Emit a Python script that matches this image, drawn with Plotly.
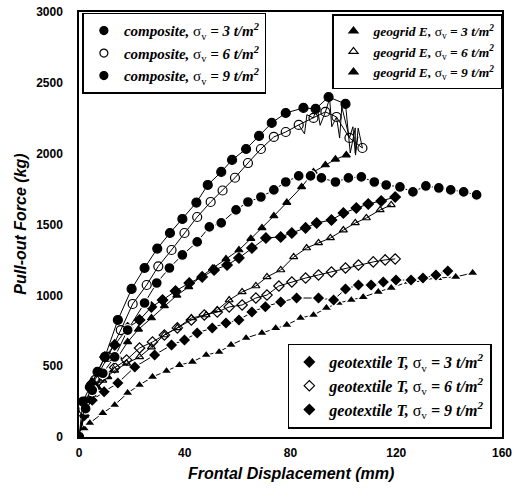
import plotly.graph_objects as go

# ---------------- data ----------------
# composite, sigma_v = 3 (filled circles, solid line)
comp3_x = [0, 1.5, 4.1, 7.0, 9.8, 14.7, 19.9, 24.8, 29.6, 34.4, 39.1, 44.4, 48.7, 53.8, 57.9, 63.2, 68.1, 72.9, 78.2, 84.9, 89.5, 94.4, 100.8]
comp3_y = [0, 250, 353, 460, 565, 826, 1045, 1193, 1330, 1440, 1539, 1655, 1779, 1871, 1956, 2033, 2125, 2217, 2287, 2323, 2316, 2400, 2351]
comp3_tail_x = [100.8, 101.9, 102.6, 104.5, 104.5, 105.5]
comp3_tail_y = [2351, 2167, 2005, 2182, 2005, 2120]

# composite, sigma_v = 6 (open circles, solid line)
comp6_x = [0, 2.5, 6.0, 10.9, 15.8, 20.3, 25.6, 30.0, 35.0, 39.9, 44.7, 49.8, 54.3, 59.0, 63.9, 68.8, 73.7, 78.2, 83.1, 88.7, 93.2, 97.4, 102.3, 107.2]
comp6_y = [0, 250, 402, 565, 755, 939, 1073, 1205, 1320, 1440, 1553, 1659, 1740, 1830, 1934, 2033, 2118, 2153, 2203, 2252, 2295, 2259, 2111, 2040]
comp6_zig_x = [83.1, 85.3, 86.2, 88.7, 90.0, 91.2, 93.2, 94.8, 95.6, 97.4, 98.6, 99.4, 102.3, 103.6, 104.6, 105.6, 107.2]
comp6_zig_y = [2203, 2140, 2275, 2252, 2340, 2200, 2295, 2390, 2190, 2259, 2110, 2330, 2111, 2190, 1990, 2180, 2040]

# composite, sigma_v = 9 (filled circles, broken line)
comp9_x = [0, 2.5, 5.0, 9.0, 13.5, 18.4, 24.8, 29.4, 34.2, 39.1, 44.7, 49.3, 53.8, 59.4, 63.9, 68.8, 73.7, 78.2, 83.1, 87.6, 91.7, 97.0, 101.9, 106.8, 111.7, 116.2, 121.4, 126.3, 131.2, 136.1, 140.6, 145.5, 150.4]
comp9_y = [0, 200, 330, 450, 565, 755, 946, 1087, 1193, 1285, 1377, 1483, 1511, 1603, 1659, 1694, 1744, 1800, 1843, 1843, 1829, 1800, 1829, 1836, 1800, 1779, 1765, 1730, 1772, 1758, 1744, 1730, 1709]

# geogrid E, sigma_v = 3 (filled triangles, solid line)
geo3_x = [0, 2, 4.5, 7.0, 10.9, 14.7, 18.4, 22.5, 27.4, 32.3, 37.0, 41.5, 46.0, 50.5, 55.6, 60.5, 65.0, 69.2, 73.7, 78.6, 84.2, 88.7, 93.2, 97.0, 101.1]
geo3_y = [0, 150, 270, 350, 424, 565, 671, 760, 840, 925, 1000, 1060, 1130, 1190, 1257, 1320, 1400, 1476, 1560, 1655, 1765, 1871, 1920, 1960, 1990]

# geogrid E, sigma_v = 6 (open triangles, solid line)
geo6_x = [0, 2.5, 5.0, 9.0, 13.5, 18.0, 22.9, 27.4, 32.3, 37.2, 42.5, 48.1, 52.3, 56.8, 61.7, 66.9, 71.1, 76.3, 81.2, 86.1, 90.6, 95.1, 100.0, 104.5, 108.7, 113.9, 118.1]
geo6_y = [0, 200, 300, 400, 470, 520, 565, 635, 720, 770, 840, 861, 897, 967, 1024, 1066, 1130, 1179, 1271, 1334, 1370, 1405, 1461, 1511, 1546, 1603, 1638]

# geogrid E, sigma_v = 9 (filled triangles, broken line)
geo9_x = [0, 2.0, 4.1, 9.0, 13.5, 18.4, 22.9, 27.8, 33.1, 38.0, 42.9, 48.1, 53.0, 57.5, 63.2, 69.2, 74.4, 78.6, 83.8, 88.7, 93.6, 98.1, 103.0, 107.5, 113.2, 118.1, 124.5, 129.3, 135.7, 142.5, 148.9]
geo9_y = [0, 60, 99, 169, 226, 311, 367, 424, 466, 508, 530, 579, 600, 650, 699, 734, 769, 791, 840, 861, 911, 946, 967, 988, 1024, 1052, 1094, 1108, 1122, 1130, 1158]

# geotextile T, sigma_v = 3 (filled diamonds, solid line)
tex3_x = [0, 2, 5, 9.8, 13.5, 18.4, 22.9, 27.4, 31.6, 36.5, 41.7, 46.6, 51.1, 56.0, 60.5, 65.4, 70.7, 76.3, 80.5, 85.7, 89.9, 95.5, 100.0, 104.9, 109.4, 114.3, 119.6]
tex3_y = [0, 200, 380, 565, 650, 770, 826, 918, 967, 1030, 1087, 1130, 1179, 1214, 1264, 1334, 1405, 1412, 1440, 1476, 1511, 1532, 1581, 1617, 1645, 1666, 1694]

# geotextile T, sigma_v = 6 (open diamonds, solid line)
tex6_x = [0, 2, 5, 9, 13.5, 18.0, 22.9, 27.8, 32.3, 37.2, 42.5, 47.4, 52.3, 56.8, 61.7, 66.9, 71.1, 75.6, 80.5, 85.7, 90.6, 95.5, 100.8, 105.7, 111.3, 115.8, 119.6]
tex6_y = [0, 180, 330, 430, 490, 544, 628, 671, 720, 770, 826, 861, 882, 918, 932, 981, 1002, 1066, 1094, 1122, 1144, 1165, 1193, 1214, 1236, 1250, 1257]

# geotextile T, sigma_v = 9 (filled diamonds, broken line)
tex9_x = [0, 2, 5, 9.5, 14.7, 21.1, 28.6, 35.0, 39.9, 44.7, 50.4, 55.6, 60.5, 65.4, 70.5, 76.3, 82.3, 90.6, 96.3, 100.8, 105.7, 110.5, 115.1, 119.9, 125.6, 130.1, 135.0, 139.5]
tex9_y = [0, 150, 260, 320, 381, 494, 579, 650, 685, 734, 770, 805, 826, 882, 920, 953, 981, 981, 967, 1045, 1073, 1073, 1094, 1108, 1108, 1122, 1144, 1172]

x_ticks = [0, 40, 80, 120, 160]
y_ticks = [0, 500, 1000, 1500, 2000, 2500, 3000]

legend_names = {
    "composite": "composite, ",
    "geogrid": "geogrid E, ",
    "geotextile": "geotextile T, ",
}
stresses = ["3", "6", "9"]

# ---------------- figure ----------------
fig = go.Figure()
BLACK = "black"


def add_series(x, y, symbol, size, broken=False, line_x=None, line_y=None):
    mline = dict(color="white", width=1.3) if broken else dict(color=BLACK, width=1.2)
    fig.add_trace(go.Scatter(x=x, y=y, mode="lines", line=dict(color=BLACK, width=1),
                             showlegend=False, hoverinfo="skip"))
    if line_x is not None:
        fig.add_trace(go.Scatter(x=line_x, y=line_y, mode="lines", line=dict(color=BLACK, width=1),
                                 showlegend=False, hoverinfo="skip"))
    fig.add_trace(go.Scatter(x=x, y=y, mode="markers",
                             marker=dict(symbol=symbol, size=size, color=BLACK, line=mline),
                             showlegend=False))


add_series(geo9_x, geo9_y, "triangle-up", 10, broken=True)
add_series(tex9_x, tex9_y, "diamond", 10, broken=True)
add_series(tex6_x, tex6_y, "diamond-open", 8)
add_series(tex3_x, tex3_y, "diamond", 8)
add_series(geo6_x, geo6_y, "triangle-up-open", 7)
add_series(geo3_x, geo3_y, "triangle-up", 7)
add_series(comp9_x, comp9_y, "circle", 11, broken=True)
add_series(comp6_x, comp6_y, "circle-open", 9, line_x=comp6_zig_x, line_y=comp6_zig_y)
add_series(comp3_x, comp3_y, "circle", 9, line_x=comp3_tail_x, line_y=comp3_tail_y)


def label(name, s):
    return ("<b><i>" + name + "</i></b>σ<sub>v</sub><b><i> = " + s +
            " t/m<sup>2</sup></i></b>")


leg_specs = [
    ("composite", ["circle", "circle-open", "circle"], "legend"),
    ("geogrid", ["triangle-up", "triangle-up-open", "triangle-up"], "legend2"),
    ("geotextile", ["diamond", "diamond-open", "diamond"], "legend3"),
]
for key, syms, leg in leg_specs:
    for i, s in enumerate(stresses):
        fig.add_trace(go.Scatter(
            x=[None], y=[None], mode="markers",
            marker=dict(symbol=syms[i], size=8, color=BLACK, line=dict(color=BLACK, width=1.2)),
            name=label(legend_names[key], s), legend=leg, showlegend=True))


def leg_style(size):
    return dict(font=dict(family="Liberation Serif", size=size, color=BLACK),
                bgcolor="white", bordercolor=BLACK, borderwidth=1.5,
                itemwidth=30, tracegroupgap=0)


fig.update_layout(
    width=514, height=490,
    margin=dict(l=79, r=12, t=12, b=53, autoexpand=False),
    paper_bgcolor="white", plot_bgcolor="white",
    showlegend=True,
    legend=dict(x=0.008, y=0.998, xanchor="left", yanchor="top", **leg_style(15)),
    legend2=dict(x=1.0, y=0.995, xanchor="right", yanchor="top", **leg_style(13.5)),
    legend3=dict(x=0.976, y=0.02, xanchor="right", yanchor="bottom", **leg_style(16)),
    xaxis=dict(range=[0, 160], tickvals=x_ticks, ticktext=[str(v) for v in x_ticks],
               showgrid=False, zeroline=False, showline=True, mirror=True, automargin=False,
               linecolor=BLACK, linewidth=1.5, ticks="", ticklabelstandoff=4,
               tickfont=dict(family="Liberation Sans", size=12, color=BLACK, weight="bold")),
    yaxis=dict(range=[0, 3000], tickvals=y_ticks, ticktext=[str(v) for v in y_ticks],
               showgrid=False, zeroline=False, showline=True, mirror=True, automargin=False,
               linecolor=BLACK, linewidth=1.5, ticks="", ticklabelstandoff=12,
               tickfont=dict(family="Liberation Sans", size=12, color=BLACK, weight="bold")),
    annotations=[
        dict(text="<b><i>Frontal Displacement (mm)</i></b>", xref="paper", yref="paper",
             x=0.5, y=-0.087, xanchor="center", yanchor="middle", showarrow=False,
             font=dict(family="Liberation Sans", size=16, color=BLACK)),
        dict(text="<b><i>Pull-out Force (kg)</i></b>", xref="paper", yref="paper",
             x=-0.139, y=0.5, xanchor="center", yanchor="middle", showarrow=False,
             textangle=-90, font=dict(family="Liberation Sans", size=16, color=BLACK)),
    ],
)

fig.write_html("out.html", config={"displayModeBar": False},
               post_script="document.body.style.margin='0px';")
